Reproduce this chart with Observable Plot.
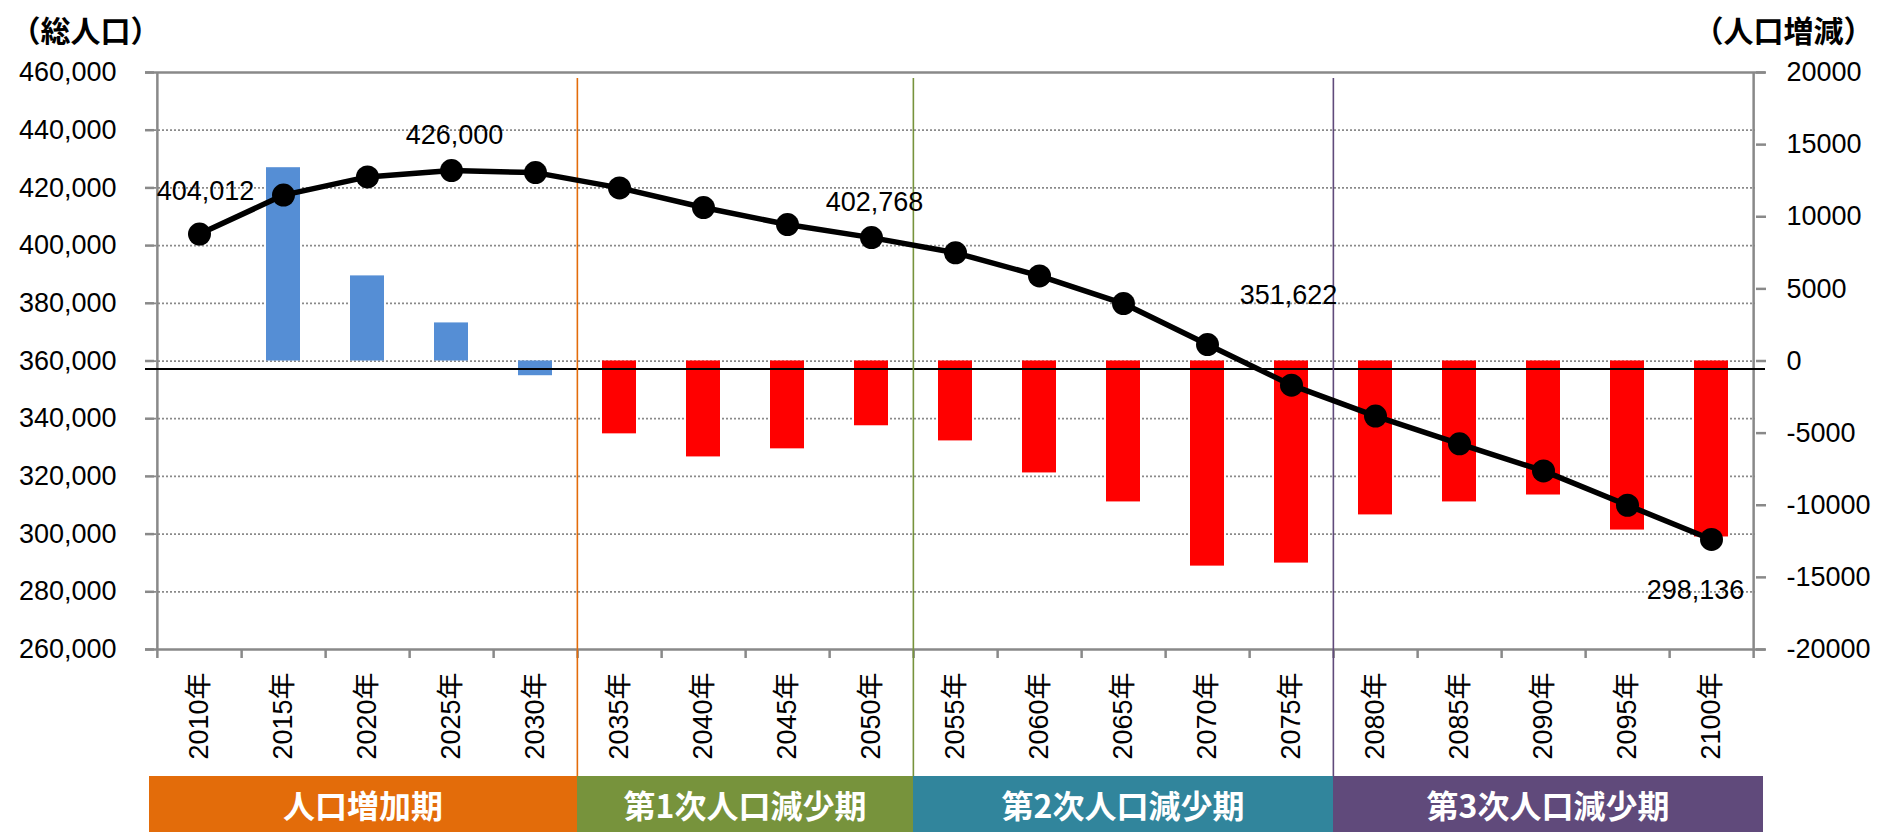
<!DOCTYPE html>
<html>
<head>
<meta charset="utf-8">
<script src="https://cdn.jsdelivr.net/npm/d3@7"></script>
<script src="https://cdn.jsdelivr.net/npm/@observablehq/plot@0.6"></script>
<style>
  html, body { margin: 0; padding: 0; background: #ffffff; }
  #chart { position: relative; width: 1884px; height: 836px; overflow: hidden; background: #ffffff; }
  .period { position: absolute; color: #ffffff; font-family: "Noto Sans CJK JP", sans-serif; font-weight: 700;
            font-size: 32px; text-align: center; box-sizing: border-box; white-space: nowrap; }
</style>
</head>
<body>
<div id="chart"></div>
<script>
// ---- data ----
const years = ["2010年","2015年","2020年","2025年","2030年","2035年","2040年","2045年","2050年","2055年",
               "2060年","2065年","2070年","2075年","2080年","2085年","2090年","2095年","2100年"];
const totalPopulation = [404012, 417500, 423800, 426000, 425300, 420000, 413200, 407300, 402768, 397500,
                         389500, 379900, 365700, 351622, 340900, 331300, 321900, 310000, 298136];
const populationChange = [null, 13400, 5900, 2640, -1020, -5050, -6650, -6090, -4490, -5540,
                          -7760, -9770, -14220, -14010, -10670, -9770, -9290, -11720, -12200];
const labelledYears = ["2010年","2025年","2050年","2075年","2100年"];
const leftTicks = [260000, 280000, 300000, 320000, 340000, 360000, 380000, 400000, 420000, 440000, 460000];
const rightTicks = [-20000, -15000, -10000, -5000, 0, 5000, 10000, 15000, 20000];
const periodNames = ["人口増加期", "第1次人口減少期", "第2次人口減少期", "第3次人口減少期"];
const periodFirst = ["2010年", "2035年", "2055年", "2080年"];
const periodLast = ["2030年", "2050年", "2075年", "2100年"];
const periodColors = ["#E36C0A", "#77933C", "#31859C", "#604A7B"];
const separatorYears = ["2035年", "2055年", "2080年"];
const separatorColors = ["#E36C0A", "#77933C", "#604A7B"];
const referenceLine = 357200;
const leftTitle = "（総人口）";
const rightTitle = "（人口増減）";

// ---- layout ----
const W = 1884, H = 836, mT = 72, mB = 187, mL = 154, mR = 129;
const plotH = H - mT - mB;
const step = (W - mL - mR) / years.length;
const gray = "#898989";
const fontFam = "'Liberation Sans', Arial, 'Noto Sans CJK JP', sans-serif";

// secondary axis (change) mapped onto the population scale
const leftDomain = [leftTicks[0], leftTicks[leftTicks.length - 1]];
const rightDomain = [rightTicks[0], rightTicks[rightTicks.length - 1]];
const toPop = d3.scaleLinear().domain(rightDomain).range(leftDomain);

const rows = years.map((y, i) => ({
  year: y,
  pop: totalPopulation[i],
  change: populationChange[i],
  period: periodFirst.filter(p => years.indexOf(p) <= i).length - 1
}));
const barRows = rows.filter(d => d.change != null);
const labelRows = rows.filter(d => labelledYears.includes(d.year));
const fmt = d3.format(",");
const sepRows = separatorYears.map((y, i) => ({year: y, color: separatorColors[i]}));

const labelFont = {fontSize: 27, fontFamily: fontFam, fill: "black", lineAnchor: "bottom", text: d => fmt(d.pop)};

const plot = Plot.plot({
  width: W, height: H,
  marginTop: mT, marginBottom: mB, marginLeft: mL, marginRight: mR,
  style: {fontFamily: fontFam, fontSize: "27px", background: "white", overflow: "visible"},
  x: {type: "band", domain: years, paddingInner: 0.6, paddingOuter: 0.3, label: null},
  y: {domain: leftDomain, nice: false, label: null},
  marks: [
    // gridlines
    Plot.ruleY(leftTicks.slice(1, -1), {stroke: "#8a8a8a", strokeWidth: 1.75, strokeDasharray: "2,2"}),
    // bars (right axis values)
    Plot.barY(barRows, {x: "year", y1: () => toPop(0), y2: d => toPop(d.change),
      fill: d => d.period === 0 ? "#558ED5" : "#FF0000"}),
    // frame lines
    Plot.ruleY([leftDomain[0], leftDomain[1]], {stroke: gray, strokeWidth: 2.5, insetLeft: -9, insetRight: -10}),
    Plot.ruleX([years[0]], {x: d => d, dx: -step / 2, stroke: gray, strokeWidth: 2.5, insetBottom: -9}),
    Plot.ruleX([years[years.length - 1]], {x: d => d, dx: step / 2, stroke: gray, strokeWidth: 2.5, insetBottom: -9}),
    Plot.ruleX(years.slice(0, -1), {x: d => d, dx: step / 2, stroke: gray, strokeWidth: 2.5, insetTop: plotH, insetBottom: -9}),
    Plot.ruleY([referenceLine], {stroke: "black", strokeWidth: 2, insetLeft: -9, insetRight: -10}),
    // period separators
    Plot.ruleX(sepRows, {x: "year", dx: -step / 2, stroke: "color", strokeWidth: 1.6, insetTop: 6, insetBottom: -127}),
    // axes
    Plot.axisY({anchor: "left", ticks: leftTicks, tickFormat: fmt, tickSize: 9, tickPadding: 29,
      stroke: gray, strokeWidth: 2.5, fill: "black", fontSize: 27, label: null}),
    Plot.axisY({anchor: "right", ticks: rightTicks.map(v => toPop(v)), tickFormat: v => String(Math.round(toPop.invert(v))),
      tickSize: 10, tickPadding: 21, stroke: gray, strokeWidth: 2.5, fill: "black", fontSize: 27, label: null}),
    Plot.axisX({anchor: "bottom", tickRotate: -90, tickSize: 0, tickPadding: 23, fill: "black", fontSize: 27, label: null}),
    // population line
    Plot.line(rows, {x: "year", y: "pop", stroke: "black", strokeWidth: 5.5}),
    Plot.dot(rows, {x: "year", y: "pop", r: 11.5, fill: "black"}),
    // data labels
    Plot.text(labelRows.filter(d => d.year === "2010年"), {x: "year", y: "pop", dx: 6, dy: -34, ...labelFont}),
    Plot.text(labelRows.filter(d => d.year === "2025年" || d.year === "2050年"), {x: "year", y: "pop", dx: 3, dy: -27, ...labelFont}),
    Plot.text(labelRows.filter(d => d.year === "2075年"), {x: "year", y: "pop", dx: -3, dy: -81, ...labelFont}),
    Plot.text(labelRows.filter(d => d.year === "2100年"), {x: "year", y: "pop", dx: -16, dy: 60, ...labelFont}),
    // axis titles
    Plot.text([leftTitle], {frameAnchor: "top-left", text: d => d, dx: -144, dy: -31, textAnchor: "start", lineAnchor: "bottom",
      fontSize: 30, fontWeight: "bold", fontFamily: "'Noto Sans CJK JP', sans-serif", fill: "black"}),
    Plot.text([rightTitle], {frameAnchor: "top-right", text: d => d, dx: 118, dy: -31, textAnchor: "end", lineAnchor: "bottom",
      fontSize: 30, fontWeight: "bold", fontFamily: "'Noto Sans CJK JP', sans-serif", fill: "black"})
  ]
});

const chart = document.getElementById("chart");
chart.appendChild(plot);

// period boxes under the axis, positioned from the plot's own x scale
const xs = plot.scale("x");
const bw = xs.bandwidth != null ? xs.bandwidth : step * 0.4;
const st = xs.step != null ? xs.step : step;
const leftEdge = y => xs.apply(y) - (st - bw) / 2;
periodNames.forEach((name, i) => {
  let l = leftEdge(periodFirst[i]);
  let r = leftEdge(periodLast[i]) + st;
  if (i === 0) l -= 8;
  if (i === periodNames.length - 1) r += 10;
  const div = document.createElement("div");
  div.className = "period";
  div.textContent = name;
  div.style.left = l + "px";
  div.style.width = (r - l) + "px";
  div.style.top = "776px";
  div.style.height = "56px";
  div.style.lineHeight = "56px";
  div.style.background = periodColors[i];
  chart.appendChild(div);
});
</script>
</body>
</html>
